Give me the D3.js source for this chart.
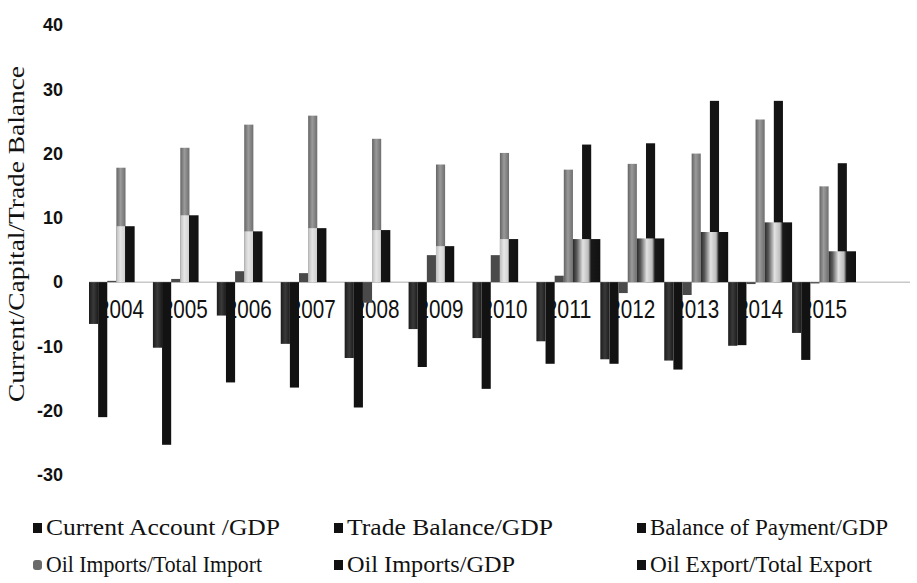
<!DOCTYPE html>
<html>
<head>
<meta charset="utf-8">
<script src="https://cdn.jsdelivr.net/npm/d3@7/dist/d3.min.js"></script>
<style>
  html, body { margin: 0; padding: 0; background: #fff; }
  svg { display: block; }
</style>
</head>
<body>
<svg id="chart" width="917" height="583"></svg>
<script>
// Balance and oil indicators, percent, 2004–2015
const years = ["2004", "2005", "2006", "2007", "2008", "2009", "2010", "2011", "2012", "2013", "2014", "2015"];
const currentAccount = [-6.5, -10.2, -5.2, -9.6, -11.8, -7.3, -8.7, -9.2, -12.0, -12.2, -9.9, -7.9];
const tradeBalance   = [-21.0, -25.3, -15.6, -16.4, -19.5, -13.2, -16.6, -12.7, -12.7, -13.6, -9.8, -12.1];
const balancePayment = [0.2, 0.5, 1.7, 1.4, -3.2, 4.2, 4.2, 1.0, -1.7, -2.0, -0.3, -0.2];
const oilImportsShare = [17.8, 20.9, 24.5, 25.9, 22.3, 18.3, 20.1, 17.5, 18.4, 20.0, 25.3, 14.9];
const oilImportsGdp   = [8.7, 10.4, 7.9, 8.4, 8.1, 5.6, 6.7, 6.7, 6.8, 7.8, 9.3, 4.8];
const oilExportShare  = [null, null, null, null, null, null, null, 21.4, 21.6, 28.2, 28.2, 18.5];
const yTicks = [-30, -20, -10, 0, 10, 20, 30, 40];

const svg = d3.select("#chart");

const x = d3.scaleBand().domain(years).range([89, 856]).padding(0);
const y = d3.scaleLinear().domain([-30, 40]).range([475, 25]);
const slot = x.bandwidth() / 7;
const plotRight = 910;

// gradients
const defs = svg.append("defs");
function hGrad(id, stops) {
  const g = defs.append("linearGradient").attr("id", id)
    .attr("x1", "0%").attr("x2", "100%").attr("y1", "0%").attr("y2", "0%");
  stops.forEach(([o, c]) => g.append("stop").attr("offset", o).attr("stop-color", c));
}
hGrad("shadeWide", [["0%", "#2a2a2a"], ["14%", "#5a5a5a"], ["36%", "#e2e2e2"], ["56%", "#bdbdbd"], ["66%", "#181818"], ["100%", "#111"]]);
hGrad("shadeNarrow", [["0%", "#bdbdbd"], ["22%", "#e6e6e6"], ["46%", "#d2d2d2"], ["50%", "#151515"], ["100%", "#111"]]);
hGrad("grayBar", [["0%", "#646464"], ["45%", "#9a9a9a"], ["100%", "#6e6e6e"]]);
hGrad("darkBar", [["0%", "#1c1c1c"], ["50%", "#3a3a3a"], ["100%", "#1c1c1c"]]);

// horizontal axis line
svg.append("line")
  .attr("x1", x.range()[0]).attr("x2", plotRight)
  .attr("y1", y(0)).attr("y2", y(0))
  .attr("stroke", "#c8c8c8").attr("stroke-width", 1.5);

// category labels sit under the bars
svg.append("g").selectAll("text").data(years).join("text")
  .attr("x", d => x(d) + x.bandwidth() / 2)
  .attr("y", 318)
  .attr("text-anchor", "middle")
  .attr("font-family", "Liberation Sans, Arial, sans-serif")
  .attr("font-size", 26)
  .attr("textLength", 46)
  .attr("lengthAdjust", "spacingAndGlyphs")
  .attr("fill", "#111")
  .text(d => d);

// y axis labels
const yAxis = d3.axisLeft(y).tickValues(yTicks).tickSize(0).tickPadding(0)
  .tickFormat(d => String(d));
const ga = svg.append("g").attr("transform", "translate(63,0)").call(yAxis);
ga.select(".domain").remove();
ga.selectAll("text")
  .attr("font-family", "Liberation Sans, Arial, sans-serif")
  .attr("font-weight", "bold")
  .attr("font-size", 18)
  .attr("fill", "#111")
  .attr("dy", "0.32em");

// y axis title
svg.append("text")
  .attr("transform", "translate(24,234) rotate(-90)")
  .attr("text-anchor", "middle")
  .attr("font-family", "Liberation Serif, Times New Roman, serif")
  .attr("font-size", 23)
  .attr("textLength", 336)
  .attr("lengthAdjust", "spacingAndGlyphs")
  .attr("fill", "#111")
  .text("Current/Capital/Trade Balance");

// bars
const barsG = svg.append("g");
function drawBars(values, slotIndex, fill) {
  const rows = years.map((yr, i) => ({ yr, v: values[i], i }))
    .filter(d => d.v != null);
  barsG.append("g").selectAll("rect").data(rows).join("rect")
    .attr("x", d => x(d.yr) + slot * slotIndex)
    .attr("width", slot)
    .attr("y", d => y(Math.max(0, d.v)))
    .attr("height", d => Math.abs(y(d.v) - y(0)))
    .attr("fill", fill);
}

drawBars(currentAccount, 0, "url(#darkBar)");
drawBars(tradeBalance, 1, "#121212");
drawBars(balancePayment, 2, "#4a4a4a");
drawBars(oilImportsShare, 3, "url(#grayBar)");
drawBars(oilExportShare, 5, "#141414");
// imports/GDP: shaded bar; where no export share is reported it sits beside the share bar
const hasExport = i => oilExportShare[i] != null;
barsG.append("g").selectAll("rect")
  .data(years.map((yr, i) => ({ yr, v: oilImportsGdp[i], i })))
  .join("rect")
  .attr("x", d => x(d.yr) + slot * (hasExport(d.i) ? 4 : 3))
  .attr("width", d => slot * (hasExport(d.i) ? 3 : 2))
  .attr("y", d => y(Math.max(0, d.v)))
  .attr("height", d => Math.abs(y(d.v) - y(0)))
  .attr("fill", d => hasExport(d.i) ? "url(#shadeWide)" : "url(#shadeNarrow)");

// legend
const legendItems = [
  { name: "Current Account /GDP", color: "#111", col: 0, row: 0, w: 234 },
  { name: "Trade Balance/GDP", color: "#111", col: 1, row: 0, w: 206 },
  { name: "Balance of Payment/GDP", color: "#111", col: 2, row: 0, w: 238 },
  { name: "Oil Imports/Total Import", color: "#6a6a6a", col: 0, row: 1, w: 216, round: true },
  { name: "Oil Imports/GDP", color: "#111", col: 1, row: 1, w: 168 },
  { name: "Oil Export/Total Export", color: "#111", col: 2, row: 1, w: 222 }
];
const colX = [33, 334, 637];
const rowY = [528, 565];
const lg = svg.append("g").selectAll("g").data(legendItems).join("g")
  .attr("transform", d => `translate(${colX[d.col]},${rowY[d.row]})`);
lg.append("rect")
  .attr("x", 0).attr("y", -5).attr("width", 9).attr("height", 10)
  .attr("rx", d => d.round ? 3 : 0)
  .attr("fill", d => d.color);
lg.append("text")
  .attr("x", 13).attr("y", 7)
  .attr("font-family", "Liberation Serif, Times New Roman, serif")
  .attr("font-size", 23)
  .attr("textLength", d => d.w)
  .attr("lengthAdjust", "spacingAndGlyphs")
  .attr("fill", "#111")
  .text(d => d.name);
</script>
</body>
</html>
